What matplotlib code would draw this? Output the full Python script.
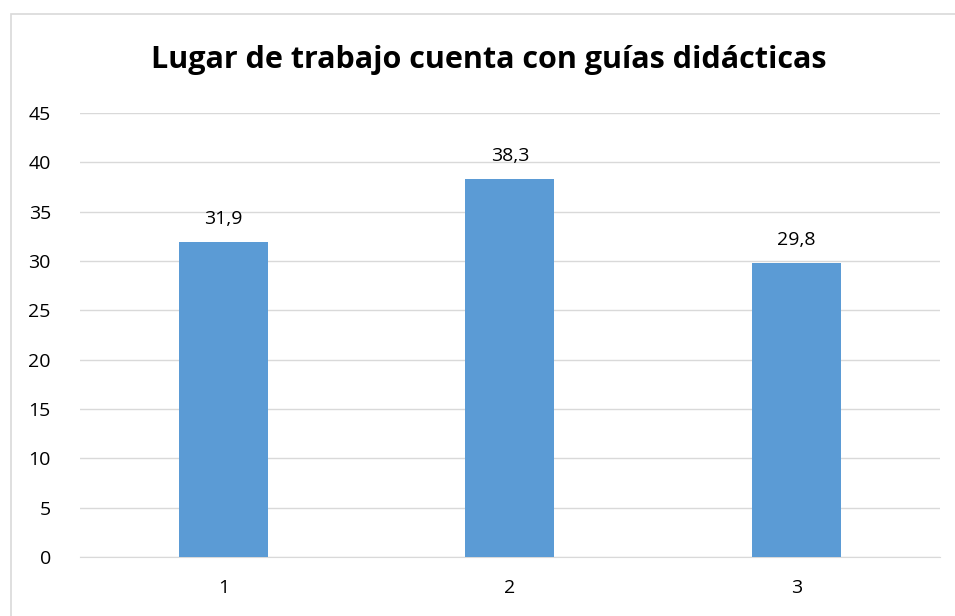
import matplotlib

matplotlib.use("Agg")
import matplotlib.pyplot as plt
from matplotlib.patches import Rectangle

categories = ["1", "2", "3"]
values = [31.9, 38.3, 29.8]
value_labels = ["31,9", "38,3", "29,8"]
yticks = [0, 5, 10, 15, 20, 25, 30, 35, 40, 45]

BAR_COLOR = "#5b9bd5"
GRID_COLOR = "#d9d9d9"
TEXT_COLOR = "#000000"


def main() -> None:
    plt.rcParams["font.family"] = ["Open Sans", "DejaVu Sans"]
    fig = plt.figure(figsize=(9.55, 6.16), dpi=100)
    ax = fig.add_axes([0.0838, 0.0958, 0.9, 0.7208])

    x = list(range(len(categories)))
    ax.bar(x, values, width=0.31, color=BAR_COLOR, zorder=3)
    for xi, v, lab in zip(x, values, value_labels):
        ax.annotate(lab, (xi, v), xytext=(0, 10), textcoords="offset points",
                    ha="center", va="bottom", fontsize=14, color=TEXT_COLOR)

    ax.set_xlim(-0.5, len(categories) - 0.5)
    ax.set_ylim(0, 45)
    ax.set_yticks(yticks)
    ax.set_xticks(x)
    ax.set_xticklabels(categories)
    ax.yaxis.grid(True, color=GRID_COLOR, linewidth=1, zorder=0)
    ax.tick_params(axis="both", length=0, labelsize=14, colors=TEXT_COLOR)
    ax.tick_params(axis="y", pad=21)
    ax.tick_params(axis="x", pad=16)
    for side in ("top", "right", "left"):
        ax.spines[side].set_visible(False)
    ax.spines["bottom"].set_color(GRID_COLOR)

    fig.text(0.512, 0.903, "Lugar de trabajo cuenta con guías didácticas",
             ha="center", va="center", fontsize=22, fontweight="bold",
             color=TEXT_COLOR)

    fig.patches.append(Rectangle((0.012, -0.01), 1.0, 0.988,
                                 transform=fig.transFigure, fill=False,
                                 edgecolor=GRID_COLOR, linewidth=1.2))

    fig.savefig("out.png", dpi=100)


if __name__ == "__main__":
    main()
